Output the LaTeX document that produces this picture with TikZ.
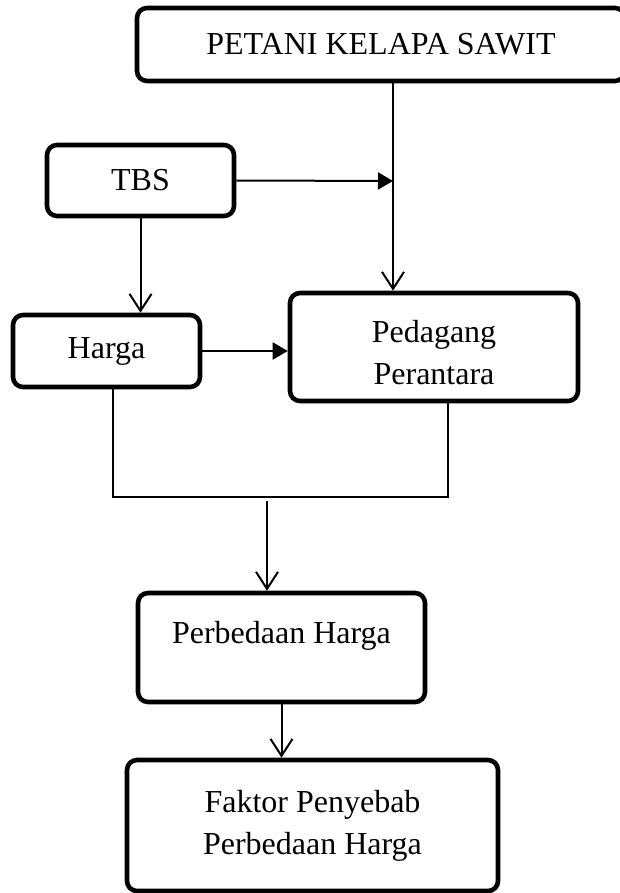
\documentclass[tikz,border=0pt]{standalone}
\usepackage{fontspec}
\setmainfont{Liberation Serif}
\usetikzlibrary{arrows.meta}
\tikzset{>=latex}
\tikzset{kotak/.style = {draw, line width = 2.3pt, rounded corners = 5pt, align = center, font = \fontsize{16}{21}\selectfont},
  panah/.style = {line width = 1pt, -{Straight Barb[length = 8.5pt, width = 11pt]}},
  panahisi/.style = {line width = 1pt, -{Triangle[length = 7.5pt, width = 8.5pt]}},
  garis/.style = {line width = 1pt}}

\begin{document}
\begin{tikzpicture}[x = 0.5pt, y = -0.5pt]
\useasboundingbox (0, 0) rectangle (620, 893);
\node[kotak, minimum width = 244pt, minimum height = 36.5pt] (petani) at (381, 44.5) {PETANI KELAPA SAWIT};
\node[kotak, minimum width = 93.5pt, minimum height = 35.5pt] (tbs) at (140.5, 180.5) {TBS};
\node[kotak, minimum width = 93.5pt, minimum height = 36pt] (harga) at (106.5, 351) {Harga};
\node[kotak, minimum width = 144pt, minimum height = 54pt, text height = 38pt] (pedagang) at (434, 347) {Pedagang\\ Perantara};
\node[kotak, minimum width = 143.5pt, minimum height = 54.5pt, text depth = 15.5pt] (perbedaan) at (281.5, 647.5) {Perbedaan Harga};
\node[kotak, minimum width = 185.5pt, minimum height = 65.5pt] (faktor) at (312.5, 825.5) {Faktor Penyebab\\ Perbedaan Harga};

\coordinate (temu) at (393, 181);
\coordinate (kiri) at (113, 497);
\coordinate (kanan) at (448, 497);
\coordinate (tengah) at (267, 501);

\draw[panah] (petani.south -| temu) -- (pedagang.north -| temu);
\draw[panahisi] (tbs.east) -- (temu);
\draw[panah] (tbs.south) -- (tbs.south |- harga.north);
\draw[panahisi] (harga.east) -- (pedagang.west |- harga.east);
\draw[garis] (harga.south -| kiri) -- (kiri) -- (kanan) -- (pedagang.south -| kanan);
\draw[panah] (tengah) -- (perbedaan.north -| tengah);
\draw[panah] (perbedaan.south) -- (perbedaan.south |- faktor.north);
\end{tikzpicture}
\end{document}
